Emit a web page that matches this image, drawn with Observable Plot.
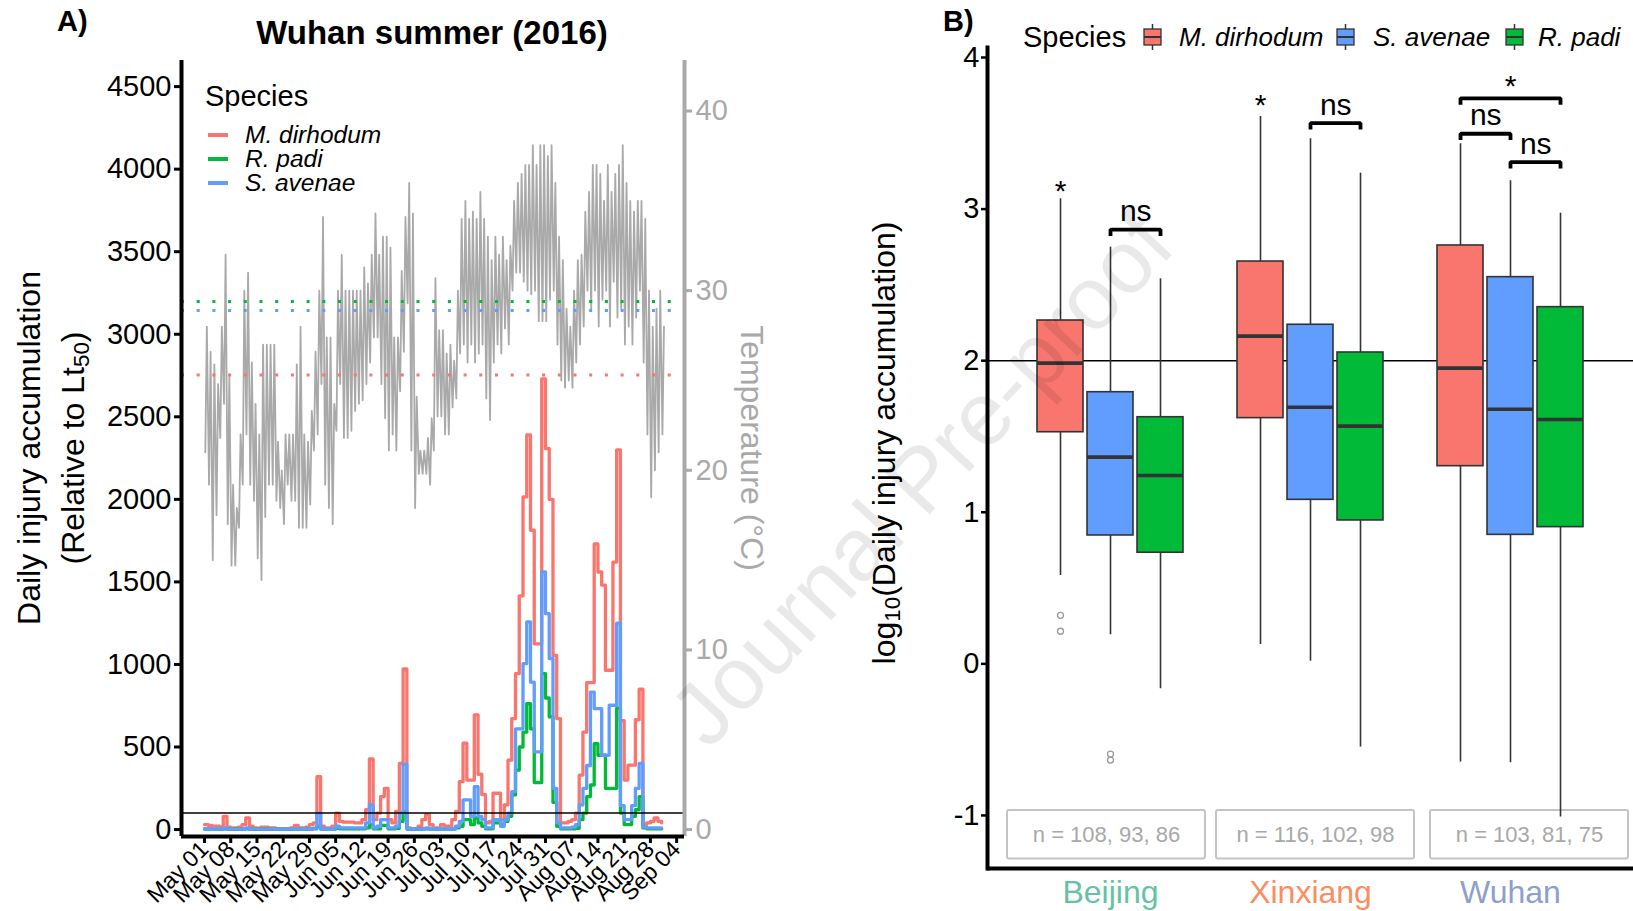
<!DOCTYPE html>
<html><head><meta charset="utf-8">
<script src="https://cdn.jsdelivr.net/npm/d3@7"></script>
<script src="https://cdn.jsdelivr.net/npm/@observablehq/plot@0.6"></script>
<style>
body{margin:0;background:#fff;}
#wrap{position:relative;width:1633px;height:911px;overflow:hidden;font-family:"Liberation Sans",Arial,Helvetica,sans-serif;color:#000;}
.abs{position:absolute;white-space:nowrap;line-height:1;}
.rot{transform:translate(-50%,-50%) rotate(-90deg);}
.rotR{transform:translate(-50%,-50%) rotate(90deg);}
.cy{transform:translateY(-50%);}
.cxy{transform:translate(-50%,-50%);}
</style></head><body><div id="wrap"></div>
<script>
// ---------------- data ----------------
const species = ["M. dirhodum", "R. padi", "S. avenae"];
const speciesColors = ["#F8766D", "#00BA38", "#619CFF"];

// daily injury accumulation from 1 May 2016 (index = day)
const injuryMdirhodum = [30,25,20,20,15,80,15,10,10,15, 30,70,20,10,8,15,15,10,10,5, 5,5,5,10,25,10,10,15,30,40,
  320,20,10,10,20,100,50,45,45,45, 40,40,60,120,428,60,100,200,250,60, 40,110,400,973,10,5,5,20,60,90,
  30,10,10,30,20,20,60,110,290,523, 300,300,695,335,212,40,50,220,220,60, 150,420,672,945,1415,2015,2390,1813,1125,1125,
  2730,2308,2000,1055,672,40,40,50,60,100, 330,590,890,890,1730,1560,1480,965,965,1620, 2300,660,300,390,390,665,850,30,40,50,
  70,50,40];
const injuryRpadi = [3,3,3,3,2,5,2,2,2,2, 3,5,2,2,2,2,2,2,2,2, 2,2,2,2,3,2,2,2,3,5,
  20,3,3,3,3,8,5,5,5,5, 5,5,5,10,30,5,5,25,25,5, 5,8,50,110,3,2,2,2,3,5,
  3,3,3,3,3,3,3,10,20,60, 60,30,70,40,20,5,5,40,40,30, 50,80,210,360,500,590,763,610,285,285,
  945,797,682,165,20,5,5,5,5,8, 60,100,200,270,520,450,450,250,250,250, 735,100,30,30,80,120,200,10,5,5,
  5,5,5];
const injurySavenae = [5,5,5,5,3,10,3,3,3,3, 5,10,3,3,3,3,3,3,3,3, 3,3,3,3,5,3,3,3,5,8,
  100,5,5,5,5,20,10,10,10,10, 10,10,10,40,150,10,20,60,60,10, 10,20,100,395,5,3,3,3,5,10,
  5,5,5,5,5,5,5,20,50,180, 180,80,260,80,60,10,10,60,60,20, 60,100,230,610,610,1005,1258,893,470,470,
  1560,1308,1036,250,40,10,10,10,15,30, 150,250,388,833,733,733,450,450,753,753, 1250,145,60,60,145,250,400,15,10,10,
  10,10,10];

// daily temperature extremes (°C)
const tempMax = [28.0,26.6,25.9,24.8,28.0,32.0,25.2,19.2,17.9,22.0, 30.0,31.0,26.0,23.7,22.0,27.0,27.0,27.0,27.0,21.6,
  20.0,22.0,22.0,22.0,25.9,28.0,22.0,21.6,23.3,26.6, 30.0,34.1,27.4,27.4,23.7,30.0,32.0,30.0,30.0,30.0,
  30.0,30.0,31.3,30.4,32.0,34.3,32.0,33.0,33.0,32.4, 27.4,27.4,31.1,34.1,36.0,34.3,24.1,21.1,21.1,21.8,
  22.9,30.7,27.8,27.8,26.5,27.0,26.1,30.0,34.0,35.0, 34.0,34.4,34.0,35.5,34.0,33.0,31.7,33.0,32.0,33.0,
  31.7,32.5,35.0,36.0,36.5,37.0,37.0,38.1,37.0,38.1, 38.1,37.5,38.1,36.0,33.0,31.7,29.0,28.0,30.0,31.7,
  32.0,34.4,35.5,37.0,37.0,36.5,35.0,37.0,35.5,36.5, 37.0,38.1,36.0,35.0,34.4,35.0,35.0,34.0,30.0,28.0,
  29.0,30.0,28.0];
const tempMin = [21.0,19.2,15.0,17.5,21.8,23.7,17.0,14.7,14.7,16.8, 19.2,22.0,19.2,18.3,15.1,13.9,17.4,19.2,19.2,18.3,
  17.9,17.0,19.2,18.3,18.3,16.8,16.8,16.8,18.1,21.1, 22.0,24.8,19.2,17.9,17.0,22.2,24.8,21.8,21.8,22.2,
  23.3,23.7,23.9,24.8,26.0,27.4,27.4,24.8,22.9,21.1, 22.0,21.1,24.4,26.6,29.3,21.1,17.9,19.8,19.8,19.8,
  19.2,21.1,23.0,23.0,22.0,22.0,23.5,24.0,26.5,27.0, 26.0,27.0,26.0,26.5,27.0,24.0,22.8,26.0,27.0,26.5,
  27.9,27.0,30.0,31.0,31.0,30.5,30.0,29.8,30.0,28.3, 28.3,28.3,29.5,30.0,27.0,25.0,24.6,25.0,24.6,26.0,
  27.0,28.0,30.0,29.0,30.0,28.0,29.5,30.0,28.0,30.5, 28.5,29.0,27.0,28.0,27.0,28.5,30.0,26.0,22.0,18.5,
  20.0,21.0,22.0];

// Lt50 temperature thresholds (°C), in the order of `species`
const thresholdTemp = [25.3, 29.4, 28.9];

const injuryTicks = [0,500,1000,1500,2000,2500,3000,3500,4000,4500];
const tempTicks = [0,10,20,30,40];

// panel B
const locations = ["Beijing", "Xinxiang", "Wuhan"];
const locationColors = ["#66C2A5", "#FC8D62", "#8DA0CB"];
const boxSpecies = ["M. dirhodum", "S. avenae", "R. padi"];
// location-major, species order = boxSpecies
const boxLow    = [0.583, 0.192, -0.164,  0.128, 0.018, -0.549,  -0.648, -0.652, -1.011];
const boxQ1     = [1.528, 0.847, 0.733,   1.621, 1.082, 0.946,   1.304, 0.851, 0.902];
const boxMedian = [1.984, 1.364, 1.243,   2.162, 1.693, 1.568,   1.951, 1.680, 1.612];
const boxQ3     = [2.265, 1.792, 1.627,   2.654, 2.237, 2.054,   2.760, 2.551, 2.353];
const boxHigh   = [3.068, 2.749, 2.540,   3.611, 3.464, 3.237,   3.431, 3.187, 2.973];
const sampleSizes = [[108, 93, 86], [116, 102, 98], [103, 81, 75]];
const outlierLocation = ["Beijing", "Beijing", "Beijing", "Beijing"];
const outlierSpecies = ["M. dirhodum", "M. dirhodum", "S. avenae", "S. avenae"];
const outlierValue = [0.32, 0.215, -0.595, -0.635];
const bracketLocation = ["Beijing", "Xinxiang", "Wuhan", "Wuhan", "Wuhan"];
const bracketFrom = ["S. avenae", "S. avenae", "M. dirhodum", "M. dirhodum", "S. avenae"];
const bracketTo = ["R. padi", "R. padi", "R. padi", "S. avenae", "R. padi"];
const bracketY = [2.865, 3.567, 3.731, 3.497, 3.31];
const bracketLabel = ["ns", "ns", "*", "ns", "ns"];
const starLocation = ["Beijing", "Xinxiang"];
const starSpecies = ["M. dirhodum", "M. dirhodum"];
const starY = [3.17, 3.738];

// ---------------- layout / style ----------------
const FONT = '"Liberation Sans", Arial, Helvetica, sans-serif';
const K = 108.8;              // injury units per °C (secondary axis)
const DAY = 864e5;
const start = Date.UTC(2016, 4, 1);
const at = d => new Date(start + d * DAY);
const xDomain = [at(-6.14), at(128.1)];
const yDomain = [-42, 4658];
const wrap = document.getElementById("wrap");

const injurySeries = [injuryMdirhodum, injuryRpadi, injurySavenae];
const injuryRows = [];
species.forEach((s, si) => injurySeries[si].forEach((v, d) => injuryRows.push({species: s, date: at(d), value: v})));
const tempRows = [];
tempMax.forEach((mx, d) => {
  tempRows.push({date: at(d + 5 / 24), t: tempMin[d]});
  tempRows.push({date: at(d + 15 / 24), t: mx});
});
const thresholdRows = species.map((s, i) => ({species: s, t: thresholdTemp[i]}));
const dateTicks = d3.range(0, 127, 7).map(at);

const left = Plot.plot({
  width: 800, height: 911,
  marginLeft: 181, marginRight: 116, marginTop: 60, marginBottom: 75,
  style: {fontFamily: FONT, background: "transparent", color: "#000", overflow: "visible"},
  x: {type: "utc", domain: xDomain, axis: null},
  y: {domain: yDomain, axis: null},
  color: {domain: species, range: speciesColors},
  marks: [
    Plot.line(tempRows, {x: "date", y: d => d.t * K, stroke: "#a9a9a9", strokeWidth: 1.8}),
    Plot.ruleY(thresholdRows, {y: d => d.t * K, stroke: "species", strokeWidth: 3, strokeDasharray: "3,12.7"}),
    Plot.line(injuryRows, {x: "date", y: "value", z: "species", stroke: "species", strokeWidth: 3.3, curve: "step-after"}),
    Plot.ruleY([100], {stroke: "#000", strokeWidth: 1.6}),
    Plot.ruleX([xDomain[1]], {stroke: "#a9a9a9", strokeWidth: 4}),
    Plot.ruleX([xDomain[0]], {stroke: "#000", strokeWidth: 4}),
    Plot.ruleY([yDomain[0]], {stroke: "#000", strokeWidth: 4}),
    Plot.axisY(injuryTicks, {anchor: "left", tickSize: 7, tickPadding: 3, fontSize: 29, strokeWidth: 3,
      tickFormat: d => String(d), label: null}),
    Plot.axisY(tempTicks.map(t => t * K), {anchor: "right", tickSize: 7, tickPadding: 4, fontSize: 29, strokeWidth: 3,
      color: "#a9a9a9", tickFormat: d => String(Math.round(d / K)), label: null}),
    Plot.axisX(dateTicks, {anchor: "bottom", tickSize: 7, tickPadding: 2, fontSize: 23, strokeWidth: 3,
      tickRotate: -45, tickFormat: d3.utcFormat("%b %d"), label: null})
  ]
});
Object.assign(left.style, {position: "absolute", left: "0px", top: "0px"});
wrap.appendChild(left);

// panel B
const keyOf = (loc, sp) => `${loc}|${sp}`;
const xKeys = [];
locations.forEach((loc, li) => {
  boxSpecies.forEach(sp => xKeys.push(keyOf(loc, sp)));
  if (li < locations.length - 1) xKeys.push(`gap${li}`);
});
const RW = 753, RML = 107, RMR = 0, PI = 0.09, PO = 0.945;
const STEP = (RW - RML - RMR) / (xKeys.length - PI + 2 * PO);
const boxRows = [];
locations.forEach((loc, li) => boxSpecies.forEach((sp, si) => {
  const i = li * 3 + si;
  boxRows.push({key: keyOf(loc, sp), species: sp, low: boxLow[i], q1: boxQ1[i], median: boxMedian[i], q3: boxQ3[i], high: boxHigh[i]});
}));
const outlierRows = outlierValue.map((v, i) => ({key: keyOf(outlierLocation[i], outlierSpecies[i]), value: v}));
const TIP = 0.042;
const bracketPts = [];
const bracketRows = bracketY.map((y, i) => {
  const a = keyOf(bracketLocation[i], bracketFrom[i]), b = keyOf(bracketLocation[i], bracketTo[i]);
  bracketPts.push({id: i, key: a, y: y - TIP}, {id: i, key: a, y}, {id: i, key: b, y}, {id: i, key: b, y: y - TIP});
  const ia = xKeys.indexOf(a), ib = xKeys.indexOf(b);
  return {key: xKeys[Math.floor((ia + ib) / 2)], half: (ia + ib) % 2 === 1, y, label: bracketLabel[i]};
});
const starRows = starY.map((y, i) => ({key: keyOf(starLocation[i], starSpecies[i]), y}));
const nLabelY = -1.128, nLabelHalf = 0.16;
const labelShift = [-4, 5, 19];

const bracketText = (rows, dx) => [
  Plot.text(rows.filter(r => r.label !== "*"), {x: "key", y: "y", text: "label", dx, dy: -18, fontSize: 30}),
  Plot.text(rows.filter(r => r.label === "*"), {x: "key", y: "y", text: "label", dx, dy: -12, fontSize: 30})
];

const right = Plot.plot({
  width: RW, height: 911,
  marginLeft: RML, marginRight: RMR, marginTop: 47, marginBottom: 43,
  style: {fontFamily: FONT, background: "transparent", color: "#000", overflow: "visible"},
  x: {type: "band", domain: xKeys, paddingInner: PI, paddingOuter: PO, axis: null},
  y: {domain: [-1.35, 4.066], axis: null},
  color: {domain: species, range: speciesColors},
  marks: [
    Plot.ruleY([2], {stroke: "#000", strokeWidth: 1.6}),
    ...locations.map((loc, li) => Plot.barY([sampleSizes[li]], {
      x: () => keyOf(loc, "S. avenae"), y1: nLabelY - nLabelHalf, y2: nLabelY + nLabelHalf,
      fill: "#fff", stroke: "#c4c4c4", strokeWidth: 2, insetLeft: -76, insetRight: -76, dx: labelShift[li], rx: 2})),
    ...locations.map((loc, li) => Plot.text([sampleSizes[li]], {
      x: () => keyOf(loc, "S. avenae"), y: nLabelY, text: d => `n = ${d.join(", ")}`,
      fill: "#a8a8a8", fontSize: 22, dx: labelShift[li]})),
    Plot.ruleX(boxRows, {x: "key", y1: "low", y2: "q1", stroke: "#333", strokeWidth: 1.6}),
    Plot.ruleX(boxRows, {x: "key", y1: "q3", y2: "high", stroke: "#333", strokeWidth: 1.6}),
    Plot.barY(boxRows, {x: "key", y1: "q1", y2: "q3", fill: "species", stroke: "#333", strokeWidth: 1.6}),
    Plot.tickY(boxRows, {x: "key", y: "median", stroke: "#333", strokeWidth: 3.6}),
    Plot.dot(outlierRows, {x: "key", y: "value", r: 3, stroke: "#9a9a9a", strokeWidth: 1.3, fill: "none"}),
    Plot.line(bracketPts, {x: "key", y: "y", z: "id", stroke: "#000", strokeWidth: 3.8, strokeLinejoin: "miter", strokeLinecap: "butt"}),
    ...bracketText(bracketRows.filter(r => r.half), STEP / 2),
    ...bracketText(bracketRows.filter(r => !r.half), 0),
    Plot.text(starRows, {x: "key", y: "y", text: () => "*", fontSize: 30, dy: 8}),
    ...locations.map((loc, li) => Plot.text([loc], {x: () => keyOf(loc, "S. avenae"), frameAnchor: "bottom", text: d => d,
      dy: 34, fontSize: 32, fill: locationColors[li]})),
    Plot.frame({anchor: "left", stroke: "#000", strokeWidth: 4}),
    Plot.ruleY([-1.35], {stroke: "#000", strokeWidth: 4}),
    Plot.axisY([-1, 0, 1, 2, 3, 4], {anchor: "left", tickSize: 6, tickPadding: 2, fontSize: 29, strokeWidth: 2.5,
      tickFormat: d => String(d), label: null})
  ]
});
Object.assign(right.style, {position: "absolute", left: "880px", top: "0px"});
wrap.appendChild(right);

// ---------------- text overlays ----------------
function addText(html, css, cls = "") {
  const el = document.createElement("div");
  el.className = "abs " + cls;
  el.innerHTML = html;
  Object.assign(el.style, css);
  wrap.appendChild(el);
  return el;
}
addText("A)", {left: "57px", top: "21px", fontSize: "29px", fontWeight: "bold"}, "cy");
addText("B)", {left: "943px", top: "21px", fontSize: "29px", fontWeight: "bold"}, "cy");
addText("Wuhan summer (2016)", {left: "432px", top: "32px", fontSize: "33px", fontWeight: "bold"}, "cxy");
addText("Daily injury accumulation", {left: "29px", top: "448px", fontSize: "32px"}, "rot");
addText("(Relative to Lt<sub style='font-size:0.7em;vertical-align:-0.25em'>50</sub>)", {left: "75px", top: "448px", fontSize: "32px"}, "rot");
addText("Temperature (°C)", {left: "752px", top: "448px", fontSize: "32px", color: "#a9a9a9"}, "rotR");
addText("log<sub style='font-size:0.7em;vertical-align:-0.25em'>10</sub>(Daily injury accumulation)", {left: "886px", top: "443px", fontSize: "32px"}, "rot");

// left legend
addText("Species", {left: "205px", top: "96px", fontSize: "29px"}, "cy");
const legendY = [135, 159, 183];
species.forEach((s, i) => {
  addText(`<svg width="20" height="6" style="display:block"><line x1="0" y1="3" x2="20" y2="3" stroke="${speciesColors[i]}" stroke-width="4"/></svg>`,
    {left: "208px", top: legendY[i] + "px"}, "cy");
  addText(`<i>${s}</i>`, {left: "245px", top: legendY[i] + "px", fontSize: "24.5px"}, "cy");
});

// right legend
addText("Species", {left: "1023px", top: "37px", fontSize: "29px"}, "cy");
const rLegX = [[1143, 1179], [1336, 1373], [1505, 1538]];
boxSpecies.forEach((s, i) => {
  const c = speciesColors[species.indexOf(s)];
  addText(`<svg width="19" height="26" style="display:block"><line x1="9.5" y1="0" x2="9.5" y2="26" stroke="#333" stroke-width="1.5"/><rect x="1" y="5" width="17" height="16" fill="${c}" stroke="#333" stroke-width="1.3"/><line x1="1" y1="13" x2="18" y2="13" stroke="#333" stroke-width="2"/></svg>`,
    {left: rLegX[i][0] + "px", top: "37px"}, "cy");
  addText(`<i>${s}</i>`, {left: rLegX[i][1] + "px", top: "37px", fontSize: "26px"}, "cy");
});

// watermark
addText("Journal Pre-proof", {left: "921px", top: "479px", fontSize: "89px", color: "rgba(0,0,0,0.085)",
  transform: "translate(-50%,-50%) rotate(-47deg)", pointerEvents: "none"});
</script></body></html>
